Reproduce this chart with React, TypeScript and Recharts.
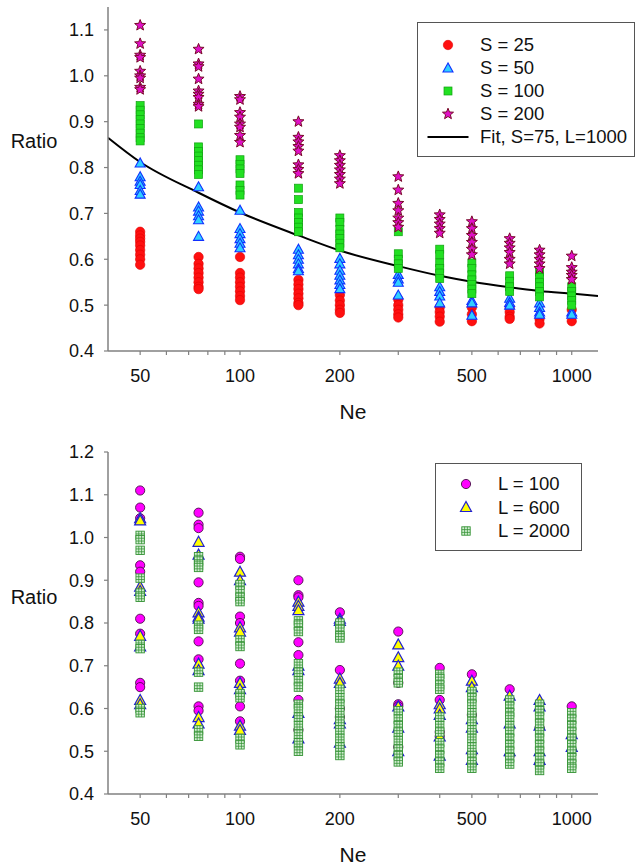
import React from 'react';
import { ComposedChart, Scatter, Line, XAxis, YAxis, Legend } from 'recharts';

// ---------- shared axis values ----------
const NE = [50, 75, 100, 150, 200, 300, 400, 500, 650, 800, 1000];
const X_TICKS = [50, 60, 70, 80, 90, 100, 200, 300, 400, 500, 600, 700, 800, 900, 1000];
const X_LABELS = [50, 100, 200, 500, 1000];
const TOP_Y_TICKS = [0.4, 0.5, 0.6, 0.7, 0.8, 0.9, 1.0, 1.1];
const BOTTOM_Y_TICKS = [0.4, 0.5, 0.6, 0.7, 0.8, 0.9, 1.0, 1.1, 1.2];

// ---------- top panel: grouped by S (one list per Ne) ----------
const S25 = [
  [0.66, 0.652, 0.645, 0.638, 0.63, 0.62, 0.61, 0.6, 0.588],
  [0.605, 0.59, 0.58, 0.57, 0.56, 0.55, 0.54, 0.535],
  [0.605, 0.57, 0.56, 0.55, 0.54, 0.53, 0.52, 0.511],
  [0.555, 0.545, 0.535, 0.525, 0.515, 0.505, 0.5],
  [0.522, 0.51, 0.5, 0.49, 0.483],
  [0.512, 0.5, 0.49, 0.48, 0.473],
  [0.495, 0.485, 0.475, 0.464],
  [0.495, 0.48, 0.465],
  [0.495, 0.485, 0.475, 0.47],
  [0.47, 0.46],
  [0.49, 0.465],
];
const S50 = [
  [0.81, 0.78, 0.77, 0.763, 0.75, 0.742],
  [0.758, 0.714, 0.705, 0.695, 0.686, 0.65],
  [0.707, 0.667, 0.656, 0.645, 0.635, 0.625],
  [0.622, 0.61, 0.6, 0.59, 0.58, 0.575],
  [0.602, 0.59, 0.576, 0.565, 0.555, 0.545, 0.536],
  [0.567, 0.557, 0.55, 0.522],
  [0.54, 0.53, 0.52, 0.505],
  [0.51, 0.505, 0.478],
  [0.515, 0.506, 0.5],
  [0.505, 0.495, 0.485, 0.48],
  [0.485, 0.48],
];
const S100 = [
  [0.935, 0.925, 0.915, 0.905, 0.895, 0.885, 0.875, 0.865, 0.858],
  [0.895, 0.845, 0.835, 0.825, 0.815, 0.805, 0.795, 0.785],
  [0.817, 0.807, 0.797, 0.787, 0.762, 0.75, 0.74],
  [0.755, 0.73, 0.702, 0.69, 0.68, 0.67, 0.66],
  [0.69, 0.68, 0.665, 0.655, 0.645, 0.635, 0.625],
  [0.66, 0.612, 0.6, 0.59, 0.58],
  [0.622, 0.61, 0.592, 0.58, 0.57, 0.558],
  [0.592, 0.58, 0.566, 0.555, 0.545, 0.535, 0.525],
  [0.564, 0.552, 0.54, 0.53],
  [0.572, 0.56, 0.55, 0.54, 0.53, 0.518],
  [0.54, 0.53, 0.52, 0.51, 0.5],
];
const S200 = [
  [1.11, 1.07, 1.045, 1.04, 1.01, 1.0, 0.995, 0.975, 0.97],
  [1.058, 1.026, 1.02, 0.993, 0.967, 0.96, 0.953, 0.938, 0.933],
  [0.955, 0.948, 0.92, 0.91, 0.895, 0.888, 0.87, 0.855],
  [0.9, 0.866, 0.856, 0.846, 0.836, 0.806, 0.796, 0.787],
  [0.826, 0.815, 0.805, 0.795, 0.785, 0.775, 0.765],
  [0.78, 0.751, 0.722, 0.706, 0.69, 0.68, 0.67],
  [0.697, 0.687, 0.677, 0.667, 0.657],
  [0.682, 0.667, 0.652, 0.637, 0.622, 0.61],
  [0.645, 0.635, 0.625, 0.615, 0.6, 0.59],
  [0.62, 0.61, 0.6, 0.59, 0.58],
  [0.607, 0.582, 0.572, 0.565, 0.556],
];
const FIT_NE = [40, 50, 75, 100, 150, 200, 300, 400, 500, 650, 800, 1000, 1200];
const FIT_RATIO = [0.865, 0.812, 0.745, 0.702, 0.652, 0.619, 0.585, 0.564, 0.551, 0.539, 0.531, 0.525, 0.52];
const TOP_LEGEND_LABELS = ['S = 25', 'S = 50', 'S = 100', 'S = 200', 'Fit, S=75, L=1000'];

// ---------- bottom panel: grouped by L (one list per Ne) ----------
const L100 = [
  [1.11, 1.07, 1.045, 0.935, 0.92, 0.81, 0.775, 0.66, 0.65],
  [1.058, 1.03, 1.022, 0.895, 0.847, 0.84, 0.757, 0.715, 0.605, 0.595],
  [0.955, 0.95, 0.815, 0.8, 0.705, 0.665, 0.605, 0.57],
  [0.9, 0.865, 0.86, 0.755, 0.725, 0.62, 0.55],
  [0.825, 0.69, 0.6, 0.58],
  [0.78, 0.66, 0.61, 0.605, 0.51],
  [0.695, 0.62, 0.545, 0.535],
  [0.68, 0.585, 0.495],
  [0.645, 0.49],
  [0.555, 0.47],
  [0.605],
];
const L600 = [
  [1.045, 1.04, 0.885, 0.875, 0.77, 0.745, 0.62, 0.61],
  [0.99, 0.96, 0.825, 0.815, 0.81, 0.705, 0.69, 0.58, 0.565],
  [0.92, 0.9, 0.79, 0.78, 0.66, 0.645, 0.56, 0.55],
  [0.85, 0.84, 0.83, 0.7, 0.69, 0.59, 0.53],
  [0.81, 0.805, 0.67, 0.66, 0.575, 0.565, 0.52],
  [0.75, 0.72, 0.7, 0.605, 0.555, 0.5],
  [0.61, 0.6, 0.585, 0.535, 0.49],
  [0.665, 0.65, 0.575, 0.555, 0.505, 0.48],
  [0.63, 0.565, 0.5],
  [0.62, 0.605, 0.56, 0.5, 0.48],
  [0.54, 0.51],
];
const L2000 = [
  [1.005, 0.995, 0.97, 0.905, 0.87, 0.86, 0.75, 0.74, 0.6, 0.59],
  [0.955, 0.945, 0.935, 0.93, 0.795, 0.785, 0.685, 0.65, 0.55, 0.535],
  [0.89, 0.875, 0.86, 0.85, 0.76, 0.745, 0.635, 0.625, 0.53, 0.515],
  [0.805, 0.795, 0.78, 0.705, 0.685, 0.665, 0.65, 0.61, 0.6, 0.58, 0.56, 0.54, 0.52, 0.5],
  [0.8, 0.785, 0.77, 0.765, 0.645, 0.625, 0.61, 0.59, 0.57, 0.55, 0.53, 0.51, 0.49],
  [0.685, 0.67, 0.66, 0.595, 0.575, 0.56, 0.545, 0.525, 0.505, 0.49, 0.475],
  [0.68, 0.67, 0.655, 0.645, 0.58, 0.56, 0.545, 0.52, 0.505, 0.49, 0.475, 0.46],
  [0.64, 0.625, 0.61, 0.59, 0.57, 0.55, 0.53, 0.51, 0.49, 0.475, 0.46],
  [0.62, 0.605, 0.59, 0.58, 0.56, 0.545, 0.53, 0.515, 0.5, 0.485, 0.47],
  [0.61, 0.595, 0.58, 0.565, 0.545, 0.53, 0.515, 0.5, 0.485, 0.47, 0.455],
  [0.59, 0.575, 0.56, 0.545, 0.53, 0.515, 0.5, 0.485, 0.47, 0.46],
];
const BOTTOM_LEGEND_LABELS = ['L = 100', 'L = 600', 'L = 2000'];

// ---------- helpers ----------
type Pt = { ne: number; ratio: number };
const toPoints = (cols: number[][]): Pt[] =>
  cols.flatMap((vals, i) => vals.map((r) => ({ ne: NE[i], ratio: r })));
const fitData: Pt[] = FIT_NE.map((n, i) => ({ ne: n, ratio: FIT_RATIO[i] }));

const FONT = '"Liberation Sans", Arial, Helvetica, sans-serif';
const AXIS = '#808080';
const TEXT = '#111';

// ---------- marker glyphs ----------
const RedCircle = (cx: number, cy: number) => (
  <circle cx={cx} cy={cy} r={4.7} fill="#FF1010" stroke="#E00000" strokeWidth={0.6} />
);
const CyanTriangle = (cx: number, cy: number) => (
  <polygon
    points={`${cx},${cy - 5} ${cx - 5},${cy + 4} ${cx + 5},${cy + 4}`}
    fill="#30D0FF"
    stroke="#1030FF"
    strokeWidth={1.1}
  />
);
const GreenSquare = (cx: number, cy: number) => (
  <rect x={cx - 4} y={cy - 4} width={8} height={8} fill="#22E022" stroke="#10A010" strokeWidth={0.7} />
);
const MagentaStar = (cx: number, cy: number) => {
  const pts: string[] = [];
  for (let k = 0; k < 10; k++) {
    const r = k % 2 === 0 ? 5.8 : 2.5;
    const a = -Math.PI / 2 + (k * Math.PI) / 5;
    pts.push(`${cx + r * Math.cos(a)},${cy + r * Math.sin(a)}`);
  }
  return <polygon points={pts.join(' ')} fill="#E010C8" stroke="#780A28" strokeWidth={1} />;
};
const PinkCircle = (cx: number, cy: number) => (
  <circle cx={cx} cy={cy} r={4.6} fill="#FF00FF" stroke="#4A104A" strokeWidth={0.9} />
);
const YellowTriangle = (cx: number, cy: number) => (
  <polygon
    points={`${cx},${cy - 5.5} ${cx - 5.5},${cy + 4.5} ${cx + 5.5},${cy + 4.5}`}
    fill="#FFFF00"
    stroke="#2020D0"
    strokeWidth={1.2}
  />
);
const GridSquare = (cx: number, cy: number) => (
  <g>
    <rect x={cx - 4.2} y={cy - 4.2} width={8.4} height={8.4} fill="#D2EED2" stroke="#339233" strokeWidth={0.9} />
    <line x1={cx - 4.2} x2={cx + 4.2} y1={cy - 1.4} y2={cy - 1.4} stroke="#339233" strokeWidth={0.75} />
    <line x1={cx - 4.2} x2={cx + 4.2} y1={cy + 1.4} y2={cy + 1.4} stroke="#339233" strokeWidth={0.75} />
    <line x1={cx - 1.4} x2={cx - 1.4} y1={cy - 4.2} y2={cy + 4.2} stroke="#339233" strokeWidth={0.75} />
    <line x1={cx + 1.4} x2={cx + 1.4} y1={cy - 4.2} y2={cy + 4.2} stroke="#339233" strokeWidth={0.75} />
  </g>
);
const FitSwatch = (cx: number, cy: number) => (
  <line x1={cx - 20.5} x2={cx + 20.5} y1={cy} y2={cy} stroke="#000" strokeWidth={2} />
);

type Glyph = (cx: number, cy: number) => React.ReactElement;
const shapeOf = (g: Glyph) => (props: any) => {
  const { cx, cy } = props;
  if (cx == null || cy == null || isNaN(cx) || isNaN(cy)) return <g />;
  return g(cx, cy);
};

// ---------- legend box ----------
type LegendItem = { label: string; glyph: Glyph };
function LegendBox({ items, width, height, padTop, rowH }: { items: LegendItem[]; width: number; height: number; padTop: number; rowH: number }) {
  return (
    <div
      style={{
        boxSizing: 'border-box',
        width,
        height,
        border: '1.5px solid #555',
        background: '#fff',
        paddingTop: padTop,
        fontFamily: FONT,
        fontSize: 18.5,
        color: TEXT,
      }}
    >
      {items.map((it) => (
        <div key={it.label} style={{ display: 'flex', alignItems: 'center', height: rowH, whiteSpace: 'nowrap' }}>
          <svg width={42} height={14} style={{ marginLeft: 9, flex: 'none' }}>
            {it.glyph(21, 7)}
          </svg>
          <span style={{ marginLeft: 11, lineHeight: `${rowH}px` }}>{it.label}</span>
        </div>
      ))}
    </div>
  );
}

// ---------- panel ----------
type Series = { name: string; data: Pt[]; glyph: Glyph };
type PanelProps = {
  height: number;
  marginTop: number;
  marginBottom: number;
  yMax: number;
  yTicks: number[];
  ratioFrac: number;
  series: Series[];
  fit?: Pt[];
  legend: React.ReactElement;
  legendPos: { left: number; top: number; width: number; height: number };
};

function Panel(p: PanelProps) {
  const neLabel = (props: any) => {
    const vb = props.viewBox || { x: 108, y: 0, width: 490, height: 66 };
    return (
      <text x={vb.x + vb.width / 2} y={vb.y + 68} textAnchor="middle" fontSize={21} fontFamily={FONT} fill={TEXT}>
        Ne
      </text>
    );
  };
  const ratioLabel = (props: any) => {
    const vb = props.viewBox || { x: 0, y: 0, width: 108, height: 340 };
    return (
      <text x={vb.x + 34} y={vb.y + vb.height * p.ratioFrac + 7} textAnchor="middle" fontSize={20} fontFamily={FONT} fill={TEXT}>
        Ratio
      </text>
    );
  };
  return (
    <ComposedChart width={637} height={p.height} margin={{ top: p.marginTop, right: 39, bottom: p.marginBottom, left: 0 }}>
      <XAxis
        dataKey="ne"
        type="number"
        scale="log"
        domain={[40, 1200]}
        allowDataOverflow
        ticks={X_TICKS}
        interval={0}
        tickFormatter={(v: number) => (X_LABELS.includes(v) ? String(v) : '')}
        tickSize={4}
        tickMargin={14}
        height={66}
        axisLine={{ stroke: AXIS, strokeWidth: 1.5 }}
        tickLine={{ stroke: AXIS, strokeWidth: 1.2 }}
        tick={{ fill: TEXT, fontSize: 18, fontFamily: FONT }}
        label={neLabel}
      />
      <XAxis
        xAxisId="frameTop"
        orientation="top"
        type="number"
        scale="log"
        domain={[40, 1200]}
        allowDataOverflow
        height={0}
        tick={false}
        tickLine={false}
        axisLine={{ stroke: AXIS, strokeWidth: 1.3 }}
      />
      <YAxis
        dataKey="ratio"
        type="number"
        domain={[0.4, p.yMax]}
        allowDataOverflow
        ticks={p.yTicks}
        interval={0}
        tickFormatter={(v: number) => v.toFixed(1)}
        tickSize={4}
        tickMargin={10}
        width={108}
        axisLine={{ stroke: AXIS, strokeWidth: 1.5 }}
        tickLine={{ stroke: AXIS, strokeWidth: 1.2 }}
        tick={{ fill: TEXT, fontSize: 18, fontFamily: FONT }}
        label={ratioLabel}
      />
      <YAxis
        yAxisId="frameRight"
        orientation="right"
        type="number"
        domain={[0.4, p.yMax]}
        allowDataOverflow
        width={0}
        tick={false}
        tickLine={false}
        axisLine={{ stroke: AXIS, strokeWidth: 1.3 }}
      />
      {p.series.map((s) => (
        <Scatter key={s.name} name={s.name} data={s.data} dataKey="ratio" shape={shapeOf(s.glyph)} isAnimationActive={false} />
      ))}
      {p.fit && (
        <Line
          data={p.fit}
          dataKey="ratio"
          type="monotone"
          stroke="#000"
          strokeWidth={2}
          dot={false}
          activeDot={false}
          isAnimationActive={false}
        />
      )}
      <Legend
        layout="vertical"
        align="center"
        verticalAlign="middle"
        content={() => p.legend}
        wrapperStyle={{ left: p.legendPos.left, top: p.legendPos.top, width: p.legendPos.width, height: p.legendPos.height, bottom: 'auto', right: 'auto' }}
      />
    </ComposedChart>
  );
}

export default function App() {
  const topSeries: Series[] = [
    { name: TOP_LEGEND_LABELS[0], data: toPoints(S25), glyph: RedCircle },
    { name: TOP_LEGEND_LABELS[1], data: toPoints(S50), glyph: CyanTriangle },
    { name: TOP_LEGEND_LABELS[2], data: toPoints(S100), glyph: GreenSquare },
    { name: TOP_LEGEND_LABELS[3], data: toPoints(S200), glyph: MagentaStar },
  ];
  const bottomSeries: Series[] = [
    { name: BOTTOM_LEGEND_LABELS[0], data: toPoints(L100), glyph: PinkCircle },
    { name: BOTTOM_LEGEND_LABELS[1], data: toPoints(L600), glyph: YellowTriangle },
    { name: BOTTOM_LEGEND_LABELS[2], data: toPoints(L2000), glyph: GridSquare },
  ];
  const topLegendItems: LegendItem[] = [
    ...topSeries.map((s) => ({ label: s.name, glyph: s.glyph })),
    { label: TOP_LEGEND_LABELS[4], glyph: FitSwatch },
  ];
  const bottomLegendItems: LegendItem[] = bottomSeries.map((s) => ({ label: s.name, glyph: s.glyph }));

  return (
    <div style={{ position: 'absolute', left: 0, top: 0, width: 637, height: 867, background: '#fff', overflow: 'hidden' }}>
      <div style={{ position: 'absolute', left: 0, top: 0 }}>
        <Panel
          height={430}
          marginTop={7}
          marginBottom={13}
          yMax={1.15}
          yTicks={TOP_Y_TICKS}
          ratioFrac={0.39}
          series={topSeries}
          fit={fitData}
          legend={<LegendBox items={topLegendItems} width={218} height={135} padTop={10} rowH={23} />}
          legendPos={{ left: 417, top: 22, width: 218, height: 135 }}
        />
      </div>
      <div style={{ position: 'absolute', left: 0, top: 430 }}>
        <Panel
          height={437}
          marginTop={22}
          marginBottom={7}
          yMax={1.2}
          yTicks={BOTTOM_Y_TICKS}
          ratioFrac={0.424}
          series={bottomSeries}
          legend={<LegendBox items={bottomLegendItems} width={147} height={88} padTop={8} rowH={23.5} />}
          legendPos={{ left: 435, top: 33, width: 147, height: 88 }}
        />
      </div>
    </div>
  );
}
